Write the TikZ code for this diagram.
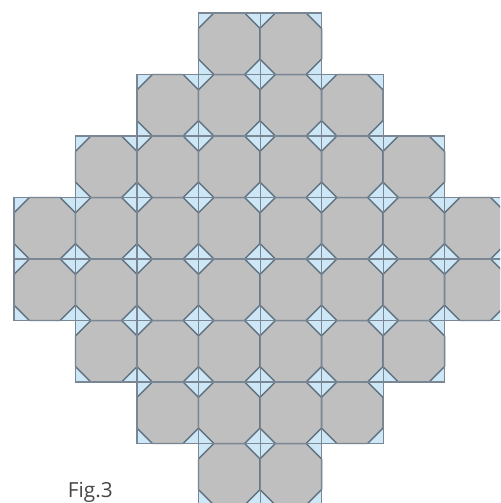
\documentclass[tikz,border=0pt]{standalone}
\usepackage{fontspec}
\setmainfont{Open Sans}
\usetikzlibrary{positioning}
\definecolor{tilegray}{RGB}{191,191,191}
\definecolor{cornerblue}{RGB}{206,231,247}
\definecolor{edgeblue}{RGB}{96,114,128}
\definecolor{labelgray}{RGB}{70,70,70}

\begin{document}
\begin{tikzpicture}[x=1cm,y=1cm,
  corner/.style={fill=cornerblue},
  octo/.style={fill=tilegray, draw=edgeblue, line width=0.65pt, line join=round},
  gridline/.style={draw=edgeblue!85, line width=0.5pt}]
% frame of the page
\useasboundingbox (-0.228,0.033) rectangle (7.902,8.211);
\clip (-0.228,0.033) rectangle (7.902,8.211);
% tiles, row by row from the bottom
\foreach \r/\a/\b in {0/3/4,1/2/5,2/1/6,3/0/7,4/0/7,5/1/6,6/2/5,7/3/4} {
  \foreach \c in {\a,...,\b} {
    \fill[corner] (\c,\r) rectangle ++(1,1);
    \filldraw[octo] (\c+0.25,\r) -- (\c+0.75,\r) -- (\c+1,\r+0.25) -- (\c+1,\r+0.75)
      -- (\c+0.75,\r+1) -- (\c+0.25,\r+1) -- (\c,\r+0.75) -- (\c,\r+0.25) -- cycle;
    \draw[gridline] (\c,\r) rectangle ++(1,1);
  }
}
% caption
\node[anchor=base west, text=labelgray, inner sep=0pt,
  font=\fontsize{9.6}{11}\selectfont] (figlabel) at (0.87,0.13) {Fig.3};
\end{tikzpicture}
\end{document}
